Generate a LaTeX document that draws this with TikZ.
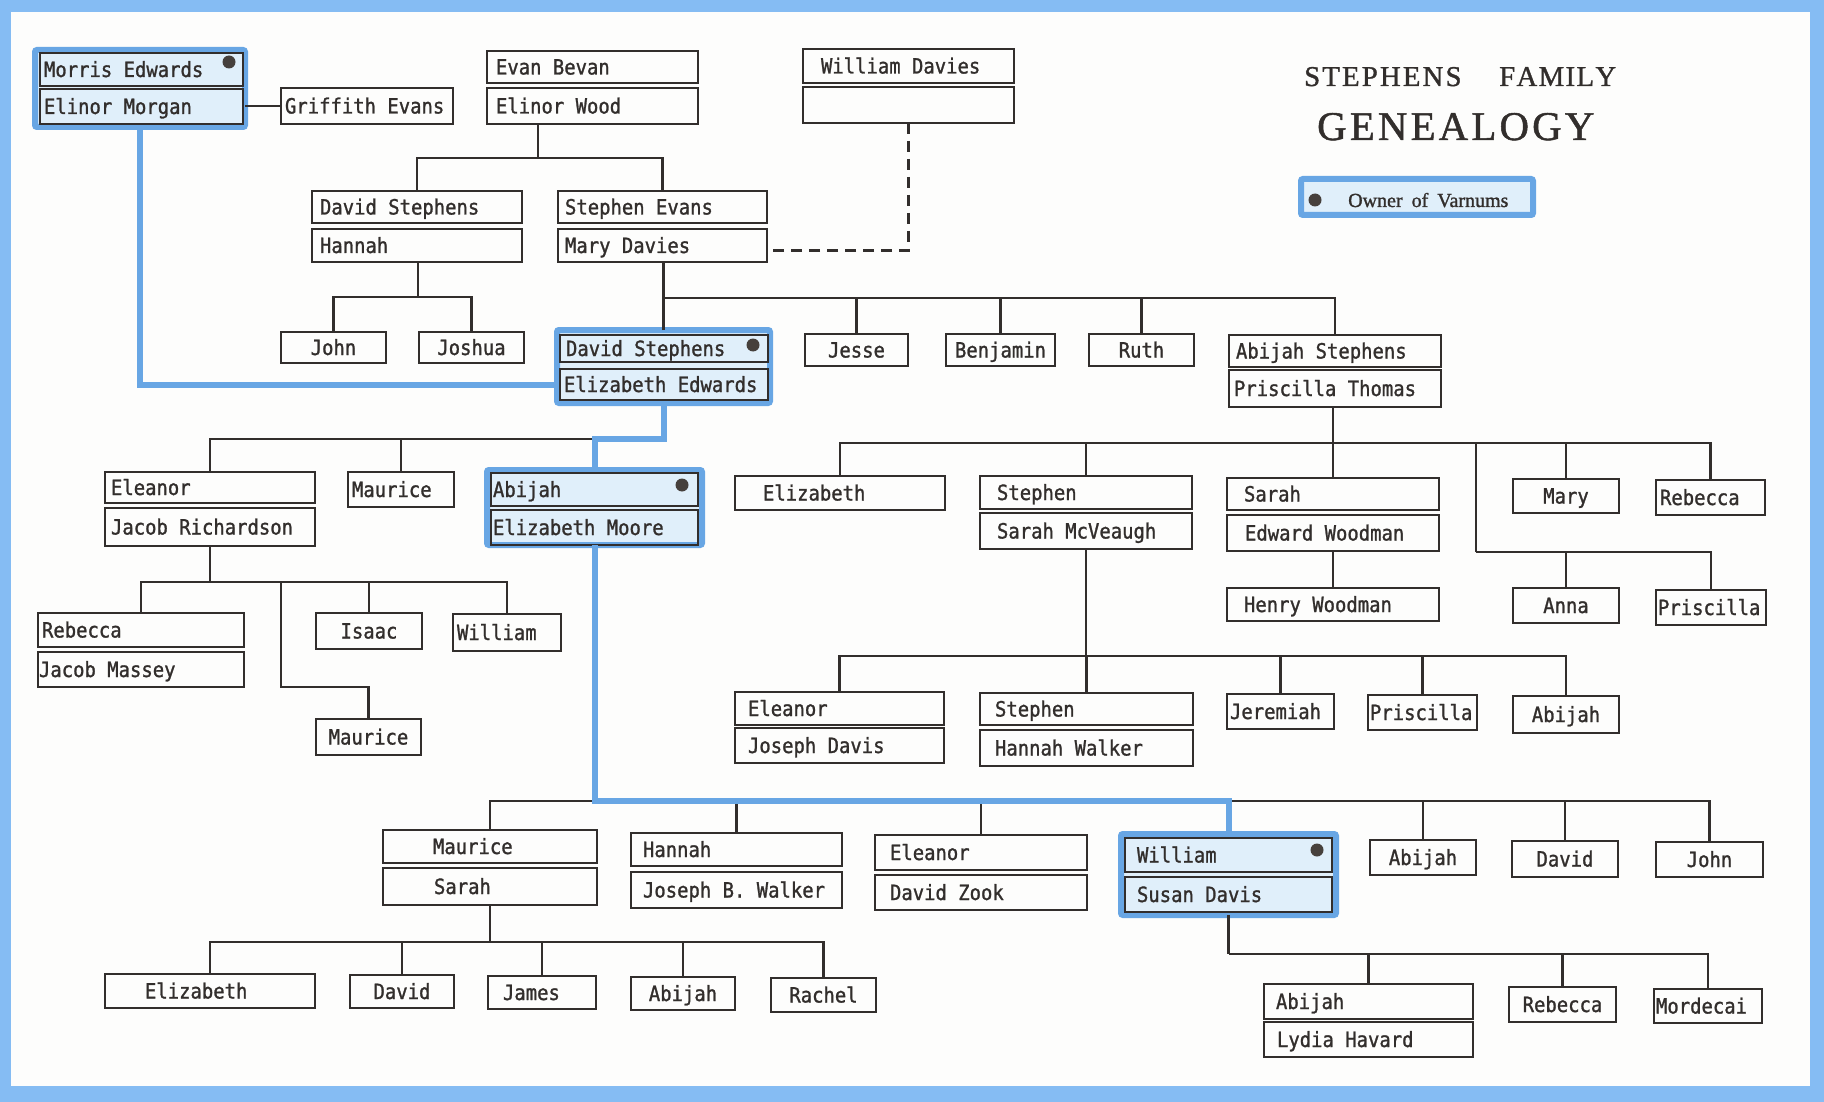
\documentclass[tikz,border=0pt]{standalone}
\usepackage{fontspec}
\newfontfamily\tw[FakeStretch=0.9,FakeBold=1.2]{DejaVu Sans Mono}
\newfontfamily\ttl[FakeBold=1.2]{Liberation Serif}
\usetikzlibrary{calc}
\definecolor{frameblue}{RGB}{133,188,243}
\definecolor{hlblue}{RGB}{104,166,228}
\definecolor{hlfill}{RGB}{224,239,250}
\definecolor{ink}{RGB}{50,46,44}
\definecolor{paper}{RGB}{253,253,252}
\definecolor{dotc}{RGB}{70,64,60}
\makeatletter
\newcommand\lspaced[2]{\@tfor\lsp@c:=#2\do{\lsp@c\kern#1}}
\makeatother
\tikzset{
 pbox/.style={draw=ink, line width=2.4pt, rectangle, inner sep=0pt, outer sep=0pt},
 txt/.style={inner sep=0pt, outer sep=0pt, text height=15pt, text depth=0pt, font=\tw\fontsize{21}{24}\selectfont, text=ink},
 hlbox/.style={draw=hlblue, line width=6pt, fill=hlfill, rounded corners=2pt, rectangle, inner sep=0pt, outer sep=0pt},
 conn/.style={draw=ink, line width=2.2pt},
 bl/.style={draw=hlblue, line width=6pt},
 dashconn/.style={draw=ink, line width=2.2pt, dash pattern=on 11pt off 7pt},
 dotn/.style={circle, fill=dotc, inner sep=0pt, minimum size=13pt},
}
\newcommand\pbl[7]{%
 \node[pbox, minimum width={#4-#2}, minimum height={#5-#3}] (#1) at ({(#2+#4)/2},{(#3+#5)/2}) {};
 \node[txt, anchor=west] (#1t) at ([xshift=#6]#1.west) {#7};}
\newcommand\pbc[6]{%
 \node[pbox, minimum width={#4-#2}, minimum height={#5-#3}] (#1) at ({(#2+#4)/2},{(#3+#5)/2}) {};
 \node[txt] (#1t) at (#1.center) {#6};}
\newcommand\hlb[5]{%
 \node[hlbox, minimum width={#4-#2-6}, minimum height={#5-#3-6}] (#1) at ({(#2+#4)/2},{(#3+#5)/2}) {};}
\begin{document}
\begin{tikzpicture}[x=1pt,y=-1pt]
\useasboundingbox (0,0) rectangle (1824,1102);
\fill[frameblue] (0,0) rectangle (1824,1102);
\fill[paper] (11,12) rectangle (1810,1086);

% title
\node[anchor=base west, inner sep=0pt, text=ink, font=\ttl\fontsize{28.7}{30}\selectfont] (t1) at (1304,86) {\lspaced{2.2pt}{STEPHENS}};
\node[anchor=base west, inner sep=0pt, text=ink, font=\ttl\fontsize{28.7}{30}\selectfont] (t2) at (1499,86) {\lspaced{1.4pt}{FAMILY}};
\node[anchor=base west, inner sep=0pt, text=ink, font=\ttl\fontsize{40.8}{42}\selectfont] (t3) at (1317,140) {\lspaced{3.2pt}{GENEALOGY}};

% legend
\hlb{legend}{1298}{176}{1536}{218}
\node[dotn] (dLeg) at (1315,200) {};
\node[anchor=base west, inner sep=0pt, text=ink, font=\ttl\fontsize{20}{22}\selectfont] (legt) at (1348,207) {Owner\hspace{9pt}of\hspace{9pt}Varnums};

% highlight groups
\hlb{hlME}{32}{47}{248}{130}
\hlb{hlDS}{554}{327}{773}{406}
\hlb{hlAB}{484}{467}{705}{548}
\hlb{hlWM}{1118}{831}{1339}{918}

% generation 1
\pbl{ME1}{40}{53}{243}{86}{4}{Morris Edwards}
\pbl{ME2}{40}{89}{243}{124}{4}{Elinor Morgan}
\pbl{GE}{281}{88}{453}{124}{4}{Griffith Evans}
\pbl{EB1}{487}{51}{698}{83}{9}{Evan Bevan}
\pbl{EB2}{487}{88}{698}{124}{9}{Elinor Wood}
\pbl{WD1}{803}{49}{1014}{83}{18}{William Davies}
\pbl{WD2}{803}{87}{1014}{123}{18}{}

% generation 2
\pbl{DS1}{312}{191}{522}{223}{8}{David Stephens}
\pbl{DS2}{312}{229}{522}{262}{8}{Hannah}
\pbl{SE1}{558}{191}{767}{223}{7}{Stephen Evans}
\pbl{SE2}{558}{229}{767}{262}{7}{Mary Davies}

% generation 3
\pbc{JO}{281}{332}{386}{363}{John}
\pbc{JS}{419}{332}{524}{363}{Joshua}
\pbl{DE1}{560}{335}{768}{362}{6}{David Stephens}
\pbl{DE2}{560}{369}{768}{400}{4}{Elizabeth Edwards}
\pbc{JE}{805}{334}{908}{366}{Jesse}
\pbc{BE}{946}{334}{1055}{366}{Benjamin}
\pbc{RU}{1089}{334}{1194}{366}{Ruth}
\pbl{AS1}{1229}{335}{1441}{367}{7}{Abijah Stephens}
\pbl{AS2}{1229}{370}{1441}{407}{5}{Priscilla Thomas}

% generation 4
\pbl{ER1}{105}{472}{315}{503}{6}{Eleanor}
\pbl{ER2}{105}{508}{315}{546}{6}{Jacob Richardson}
\pbl{MA1}{348}{472}{454}{507}{4}{Maurice}
\pbl{AM1}{491}{473}{698}{506}{2}{Abijah}
\pbl{AM2}{491}{510}{698}{545}{2}{Elizabeth Moore}
\pbl{EZ}{735}{476}{945}{510}{28}{Elizabeth}
\pbl{SM1}{980}{476}{1192}{509}{17}{Stephen}
\pbl{SM2}{980}{513}{1192}{549}{17}{Sarah McVeaugh}
\pbl{SW1}{1227}{478}{1439}{510}{17}{Sarah}
\pbl{SW2}{1227}{515}{1439}{551}{18}{Edward Woodman}
\pbl{HW}{1227}{588}{1439}{621}{17}{Henry Woodman}
\pbc{MY}{1513}{479}{1619}{513}{Mary}
\pbl{RB}{1656}{480}{1765}{515}{4}{Rebecca}
\pbc{AN}{1513}{588}{1619}{623}{Anna}
\pbl{PR}{1656}{590}{1766}{625}{2}{Priscilla}

% generation 5
\pbl{RM1}{38}{613}{244}{647}{4}{Rebecca}
\pbl{RM2}{38}{652}{244}{687}{1}{Jacob Massey}
\pbc{IS}{316}{613}{422}{649}{Isaac}
\pbl{WI}{453}{614}{561}{651}{4}{William}
\pbc{MA2}{316}{719}{421}{755}{Maurice}
\pbl{ED1}{735}{692}{944}{725}{13}{Eleanor}
\pbl{ED2}{735}{728}{944}{763}{13}{Joseph Davis}
\pbl{SH1}{980}{693}{1193}{725}{15}{Stephen}
\pbl{SH2}{980}{730}{1193}{766}{15}{Hannah Walker}
\pbl{JR}{1227}{694}{1334}{729}{3}{Jeremiah}
\pbl{PS}{1368}{695}{1477}{730}{2}{Priscilla}
\pbc{AJ}{1513}{696}{1619}{733}{Abijah}
\pbl{MS1}{383}{830}{597}{863}{50}{Maurice}
\pbl{MS2}{383}{868}{597}{905}{51}{Sarah}
\pbl{HJ1}{631}{833}{842}{866}{12}{Hannah}
\pbl{HJ2}{631}{872}{842}{908}{12}{Joseph B. Walker}
\pbl{EK1}{875}{835}{1087}{870}{15}{Eleanor}
\pbl{EK2}{875}{875}{1087}{910}{15}{David Zook}
\pbl{WS1}{1125}{838}{1332}{872}{12}{William}
\pbl{WS2}{1125}{877}{1332}{912}{12}{Susan Davis}
\pbc{AB5}{1370}{840}{1476}{875}{Abijah}
\pbc{DV}{1512}{841}{1618}{877}{David}
\pbc{JN}{1656}{842}{1763}{877}{John}

% generation 6
\pbl{EL}{105}{974}{315}{1008}{40}{Elizabeth}
\pbc{DA}{350}{975}{454}{1008}{David}
\pbl{JA}{488}{976}{596}{1009}{15}{James}
\pbc{AJ4}{631}{977}{735}{1010}{Abijah}
\pbc{RC}{771}{978}{876}{1012}{Rachel}
\pbl{AL1}{1264}{984}{1473}{1019}{12}{Abijah}
\pbl{AL2}{1264}{1022}{1473}{1057}{13}{Lydia Havard}
\pbc{RB3}{1509}{987}{1616}{1022}{Rebecca}
\pbl{MO}{1654}{989}{1762}{1023}{2}{Mordecai}

% bus junctions
\coordinate (jEB) at (538,158);
\coordinate (jDH) at (418,297);
\coordinate (jSE) at (663.5,298);
\coordinate (jDS) at (594.5,439);
\coordinate (jER) at (210,582);
\coordinate (jER2) at (281,687);
\coordinate (jAS) at (1333,443);
\coordinate (jAS2) at (1476,552);
\coordinate (jSM) at (1086,656);
\coordinate (jAM) at (594.5,801);
\coordinate (jMS) at (490,942);
\coordinate (jWS) at (1228.5,954);

% black connectors
\draw[conn] (GE.west) -- (GE.west -| hlME.east);
\draw[conn] (jEB |- EB2.south) -- (jEB);
\draw[conn] (DS1.north) |- (jEB);
\draw[conn] (SE1.north) |- (jEB);
\draw[dashconn] (WD2.south) |- ([yshift=-5pt]SE2.east);
\draw[conn] (jDH |- DS2.south) -- (jDH);
\draw[conn] (JO.north) |- (jDH);
\draw[conn] (JS.north) |- (jDH);
\draw[conn] (jSE |- SE2.south) -- (jSE);
\draw[conn] (hlDS.north) |- (jSE);
\draw[conn] (JE.north) |- (jSE);
\draw[conn] (BE.north) |- (jSE);
\draw[conn] (RU.north) |- (jSE);
\draw[conn] (AS1.north) |- (jSE);
\draw[conn] (ER1.north) |- (jDS);
\draw[conn] (MA1.north) |- (jDS);
\draw[conn] (jER |- ER2.south) -- (jER);
\draw[conn] (RM1.north) |- (jER);
\draw[conn] (IS.north) |- (jER);
\draw[conn] (WI.north) |- (jER);
\draw[conn] (MA2.north) |- (jER2) -- (jER2 |- jER);
\draw[conn] (jAS |- AS2.south) -- (jAS);
\draw[conn] (EZ.north) |- (jAS);
\draw[conn] (SM1.north) |- (jAS);
\draw[conn] (SW1.north) |- (jAS);
\draw[conn] (MY.north) |- (jAS);
\draw[conn] (RB.north) |- (jAS);
\draw[conn] (jAS2) -- (jAS2 |- jAS);
\draw[conn] (AN.north) |- (jAS2);
\draw[conn] (PR.north) |- (jAS2);
\draw[conn] (SW2.south) -- (HW.north);
\draw[conn] (jSM |- SM2.south) -- (jSM);
\draw[conn] (ED1.north) |- (jSM);
\draw[conn] (SH1.north) |- (jSM);
\draw[conn] (JR.north) |- (jSM);
\draw[conn] (PS.north) |- (jSM);
\draw[conn] (AJ.north) |- (jSM);
\draw[conn] (MS1.north) |- (jAM);
\draw[conn] (HJ1.north) |- (jAM);
\draw[conn] (EK1.north) |- (jAM);
\draw[conn] (AB5.north) |- (jAM);
\draw[conn] (DV.north) |- (jAM);
\draw[conn] (JN.north) |- (jAM);
\draw[conn] (jMS |- MS2.south) -- (jMS);
\draw[conn] (EL.north) |- (jMS);
\draw[conn] (DA.north) |- (jMS);
\draw[conn] (JA.north) |- (jMS);
\draw[conn] (AJ4.north) |- (jMS);
\draw[conn] (RC.north) |- (jMS);
\draw[conn] (hlWM.south) -- (jWS);
\draw[conn] (AL1.north) |- (jWS);
\draw[conn] (RB3.north) |- (jWS);
\draw[conn] (MO.north) |- (jWS);

% blue lineage
\draw[bl] (hlME.south) |- ([yshift=-18pt]hlDS.west);
\draw[bl] (hlDS.south) |- (jDS) -- (hlAB.north);
\draw[bl] (hlAB.south) -- (jAM) -| (hlWM.north);

% owner dots
\node[dotn] (dME) at (229,62) {};
\node[dotn] (dDS) at (753,345) {};
\node[dotn] (dAB) at (682,485) {};
\node[dotn] (dWM) at (1317,850) {};
\end{tikzpicture}
\end{document}
